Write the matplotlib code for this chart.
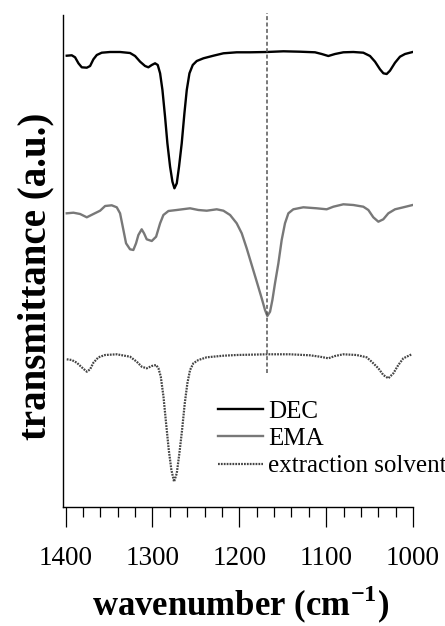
import matplotlib
matplotlib.use("Agg")
import matplotlib.pyplot as plt
from matplotlib.ticker import MultipleLocator

plt.rcParams['font.family'] = ['Liberation Serif', 'DejaVu Serif']
plt.rcParams['mathtext.fontset'] = 'custom'
plt.rcParams['mathtext.rm'] = 'Liberation Serif'
plt.rcParams['mathtext.bf'] = 'Liberation Serif:bold'

# ---- data (wavenumber in cm^-1, transmittance in arbitrary units incl. stacking) ----
dec_wn = [1398.7, 1392.9, 1389.1, 1385.2, 1381.4, 1375.6, 1371.8, 1368.0, 1364.1, 1358.4,
          1348.8, 1337.3, 1325.8, 1320.0, 1314.2, 1308.5, 1304.7, 1300.8, 1297.0, 1293.9,
          1291.2, 1288.5, 1285.5, 1282.8, 1279.7, 1277.0, 1274.7, 1272.0, 1269.4, 1266.3,
          1263.2, 1260.5, 1257.4, 1253.6, 1249.0, 1241.3, 1229.8, 1218.3, 1203.0, 1187.6,
          1168.4, 1149.2, 1130.1, 1112.8, 1105.1, 1097.5, 1089.8, 1080.2, 1068.7, 1057.2,
          1049.5, 1043.7, 1038.0, 1034.1, 1030.3, 1026.5, 1020.7, 1015.0, 1009.2, 1000.4]
dec_t = [4.513, 4.517, 4.497, 4.437, 4.397, 4.393, 4.41, 4.477, 4.52, 4.543,
         4.55, 4.55, 4.54, 4.51, 4.453, 4.41, 4.397, 4.42, 4.437, 4.42,
         4.337, 4.17, 3.903, 3.637, 3.403, 3.253, 3.187, 3.237, 3.403, 3.637,
         3.937, 4.17, 4.337, 4.42, 4.46, 4.487, 4.513, 4.537, 4.547, 4.547,
         4.55, 4.557, 4.553, 4.547, 4.53, 4.51, 4.53, 4.547, 4.55, 4.543,
         4.51, 4.453, 4.377, 4.337, 4.33, 4.363, 4.443, 4.503, 4.53, 4.55]

ema_wn = [1398.7, 1391.0, 1383.3, 1375.6, 1368.0, 1360.3, 1354.5, 1346.9, 1341.1, 1337.3,
          1334.2, 1330.4, 1325.8, 1322.0, 1318.9, 1316.2, 1312.4, 1309.7, 1306.6, 1300.8,
          1295.8, 1291.2, 1287.4, 1281.6, 1272.0, 1256.7, 1247.1, 1237.5, 1226.0, 1218.3,
          1210.6, 1203.0, 1197.2, 1191.5, 1185.7, 1179.9, 1174.2, 1170.4, 1167.7, 1164.6,
          1161.9, 1158.9, 1155.0, 1151.2, 1147.4, 1143.5, 1137.8, 1126.3, 1110.9, 1099.4,
          1091.7, 1080.2, 1068.7, 1057.2, 1051.4, 1045.7, 1039.9, 1034.2, 1028.4, 1020.7,
          1011.1, 1000.4]
ema_t = [2.937, 2.943, 2.93, 2.897, 2.93, 2.963, 3.01, 3.017, 2.997, 2.937,
         2.803, 2.637, 2.577, 2.57, 2.637, 2.72, 2.777, 2.737, 2.677, 2.66,
         2.703, 2.837, 2.92, 2.96, 2.97, 2.987, 2.97, 2.963, 2.977, 2.963,
         2.92, 2.837, 2.737, 2.587, 2.42, 2.253, 2.087, 1.97, 1.91, 1.953,
         2.07, 2.237, 2.437, 2.67, 2.837, 2.937, 2.977, 2.997, 2.987, 2.977,
         3.003, 3.027, 3.02, 3.003, 2.97, 2.897, 2.853, 2.877, 2.937, 2.977,
         2.997, 3.02]

sol_wn = [1398.7, 1392.9, 1387.1, 1381.4, 1375.6, 1371.8, 1368.0, 1362.2, 1354.5, 1341.1,
          1325.8, 1318.1, 1312.3, 1306.6, 1300.8, 1295.8, 1293.1, 1290.4, 1287.3, 1284.3,
          1281.2, 1278.2, 1275.1, 1272.0, 1269.0, 1265.9, 1262.8, 1259.8, 1256.7, 1252.9,
          1247.1, 1237.5, 1218.3, 1203.0, 1168.4, 1141.6, 1118.6, 1107.1, 1097.5, 1089.8,
          1080.2, 1064.9, 1053.4, 1047.6, 1039.9, 1034.2, 1028.4, 1022.6, 1016.9, 1011.1,
          1001.5]
sol_t = [1.477, 1.47, 1.443, 1.397, 1.353, 1.377, 1.443, 1.497, 1.52, 1.527,
         1.503, 1.453, 1.403, 1.387, 1.41, 1.42, 1.387, 1.303, 1.103, 0.837,
         0.57, 0.37, 0.253, 0.337, 0.537, 0.77, 1.037, 1.237, 1.37, 1.437,
         1.47, 1.497, 1.513, 1.52, 1.527, 1.527, 1.517, 1.503, 1.487, 1.51,
         1.527, 1.52, 1.497, 1.453, 1.387, 1.32, 1.287, 1.337, 1.42, 1.487,
         1.527]

labels = ['DEC', 'EMA', 'extraction solvent']
marker_wn = 1168
marker_t = (1.34, 4.94)
xticks = [1400, 1300, 1200, 1100, 1000]

fig = plt.figure(figsize=(4.45, 6.26), dpi=100)
ax = fig.add_axes([63/445, 1-507/626, (413-63)/445, (507-15)/626])

ax.plot(dec_wn, dec_t, color='black', lw=1.7, label=labels[0],
        solid_joinstyle='round')
ax.plot(ema_wn, ema_t, color='#787878', lw=1.7, label=labels[1],
        solid_joinstyle='round')
ax.plot(sol_wn, sol_t, color='#444444', lw=1.6, linestyle=(0, (0.8, 0.5)),
        label=labels[2])
ax.vlines(marker_wn, marker_t[0], marker_t[1], colors='#555555', lw=1.1,
          linestyles=(0, (2.6, 1.6)), clip_on=False)

ax.set_xlim(1403, 1000)
ax.set_ylim(0, 4.92)
ax.set_xticks(xticks)
ax.xaxis.set_minor_locator(MultipleLocator(20))
ax.set_yticks([])
for s in ['top', 'right']:
    ax.spines[s].set_visible(False)
for s in ['left', 'bottom']:
    ax.spines[s].set_linewidth(1.0)
ax.tick_params(axis='x', which='major', direction='out', length=14.4, width=0.9,
               labelsize=19.5, pad=14)
ax.tick_params(axis='x', which='minor', direction='out', length=7.2, width=0.9)

ax.set_xlabel(r'wavenumber (cm$^{\mathbf{-1}}$)', fontsize=25, fontweight='bold')
ax.xaxis.label.set_va('baseline')
ax.xaxis.set_label_coords(0.506, -(616-507)/492)
ax.set_ylabel('transmittance (a.u.)', fontsize=28, fontweight='bold')
ax.yaxis.label.set_va('baseline')
ax.yaxis.set_label_coords(-(63-45.5)/350, (507-276.5)/492)

leg = ax.legend(loc='upper left', bbox_to_anchor=(218/445, 1-400/626),
                bbox_transform=fig.transFigure, frameon=False, fontsize=18,
                handlelength=1.8, handletextpad=0.2, labelspacing=0.2,
                borderaxespad=0, borderpad=0)

fig.savefig('out.png', dpi=100)
